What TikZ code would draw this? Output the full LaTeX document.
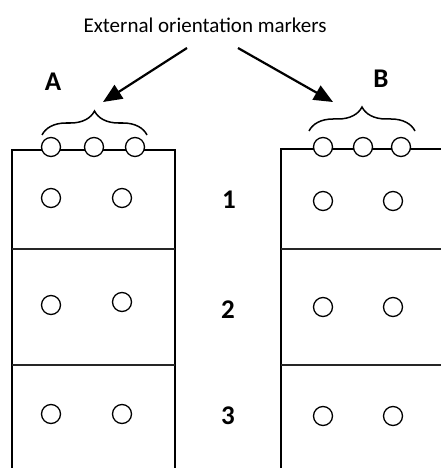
\documentclass[tikz,border=0pt]{standalone}
\usepackage{fontspec}
\setmainfont{Carlito}
\usetikzlibrary{arrows.meta,decorations.pathreplacing}
\tikzset{
  frame/.style={line width=1.8pt, line cap=rect},
  divider/.style={line width=1.4pt, draw=black!85},
  marker/.style={circle, draw, fill=white, line width=1.3pt, minimum size=19pt, inner sep=0pt},
  spot/.style={circle, draw, line width=1.3pt, minimum size=19pt, inner sep=0pt},
  pointer/.style={line width=2.2pt, -{Triangle[length=19pt,width=16pt]}},
  curly/.style={line width=1.5pt, decorate, decoration={brace, amplitude=24pt, aspect=0.5}},
  tag/.style={font=\bfseries\fontsize{27}{30}\selectfont, inner sep=0pt},
  caption/.style={font=\fontsize{21}{24}\selectfont, inner sep=0pt}
}
\begin{document}
\begin{tikzpicture}[x=1pt, y=-1pt]
\useasboundingbox (0,0) rectangle (441,468);

% title and labels
\node[caption] (title) at (205,25) {External orientation markers};
\node[tag] (labA) at (53,82) {A};
\node[tag] (labB) at (381,79) {B};
\node[tag] (row1) at (229,200) {1};
\node[tag] (row2) at (228,310) {2};
\node[tag] (row3) at (228,416) {3};

% left frame
\draw[frame] (12,468) -- (12,150) -- (175,150) -- (175,468);
\draw[divider] (12,249) -- (175,249);
\draw[divider] (12,365) -- (175,365);

% right frame, open towards the right edge
\draw[frame] (441,149) -- (281,149) -- (281,468);
\draw[divider] (281,249) -- (441,249);
\draw[divider] (281,365) -- (441,365);

% orientation markers sitting on the top edges
\node[marker] (mA1) at (51,147) {};
\node[marker] (mA2) at (94,147) {};
\node[marker] (mA3) at (135,147) {};
\node[marker] (mB1) at (323,147) {};
\node[marker] (mB2) at (363,147) {};
\node[marker] (mB3) at (401,147) {};

% spots inside the cells
\node[spot] (a11) at (51,198) {};
\node[spot] (a12) at (122,198) {};
\node[spot] (a21) at (51,305) {};
\node[spot] (a22) at (122,302) {};
\node[spot] (a31) at (51,414) {};
\node[spot] (a32) at (122,414) {};
\node[spot] (b11) at (323,201) {};
\node[spot] (b12) at (393,201) {};
\node[spot] (b21) at (323,307) {};
\node[spot] (b22) at (393,307) {};
\node[spot] (b31) at (323,416) {};
\node[spot] (b32) at (393,416) {};

% braces grouping the markers
\draw[curly] (42,135) -- (147,135);
\draw[curly] (309,131) -- (415,131);

% pointers from the caption
\coordinate (srcA) at (187,48);
\coordinate (srcB) at (238,48);
\coordinate (dstA) at (103,102);
\coordinate (dstB) at (333,102);
\draw[pointer] (srcA) -- (dstA);
\draw[pointer] (srcB) -- (dstB);
\end{tikzpicture}
\end{document}
